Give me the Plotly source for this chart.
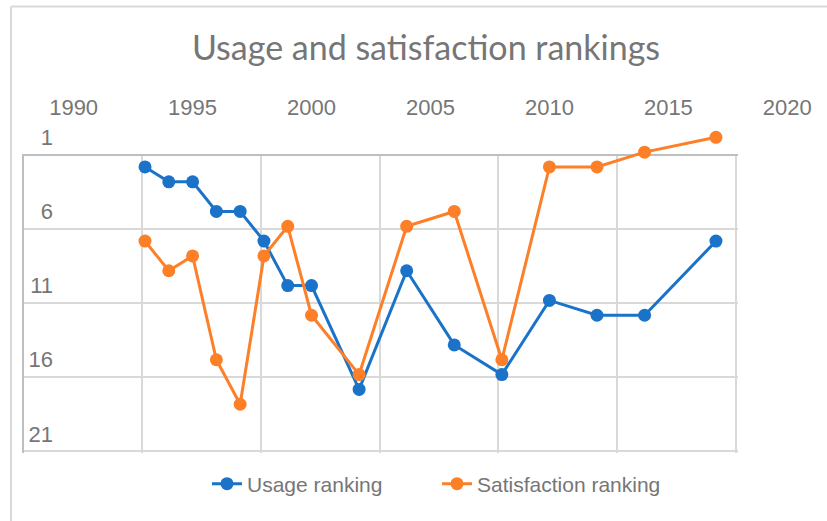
import plotly.graph_objects as go

# ---- data ----
years = [1993, 1994, 1995, 1996, 1997, 1998, 1999, 2000, 2002, 2004, 2006, 2008, 2010, 2012, 2014, 2017]
usage_rank = [3, 4, 4, 6, 6, 8, 11, 11, 18, 10, 15, 17, 12, 13, 13, 8]
satisfaction_rank = [8, 10, 9, 16, 19, 9, 7, 13, 17, 7, 6, 16, 3, 3, 2, 1]
x_tick_labels = [1990, 1995, 2000, 2005, 2010, 2015, 2020]
y_tick_labels = [1, 6, 11, 16, 21]

# ---- layout geometry (pixels) ----
W, H = 827, 521
X_REF_YEAR, X_REF_PX, PX_PER_YEAR = 1993, 145.0, 23.79
Y_REF_RANK, Y_REF_PX, PX_PER_RANK = 1, 137.3, 14.83

def fx(p):
    return p / W

def fy(p):
    return 1 - p / H

def year_at(p):
    return X_REF_YEAR + (p - X_REF_PX) / PX_PER_YEAR

def rank_at(p):
    return Y_REF_RANK + (p - Y_REF_PX) / PX_PER_RANK

DATA_L, DATA_R, DATA_T, DATA_B = 11, 827, 116, 472
GRID_L, GRID_R, GRID_T, GRID_B = 23.5, 738, 155.5, 453

TXT = "#767676"
TICKFONT = "Liberation Sans, Arial, sans-serif"
LEGFONT = "Liberation Sans, Arial, sans-serif"
BLUE = "#1a73c8"
ORANGE = "#fd7f28"
GRID = "#d9d9d9"
EDGE = "#bfbfbf"

fig = go.Figure()
# empty trace so that the grid subplot (x/y) is created
fig.add_trace(go.Scatter(x=[], y=[], showlegend=False, hoverinfo="skip", xaxis="x", yaxis="y"))
fig.add_trace(go.Scatter(
    x=years, y=usage_rank, name="Usage ranking", mode="lines+markers",
    line=dict(color=BLUE, width=3), marker=dict(color=BLUE, size=13),
    xaxis="x2", yaxis="y2", cliponaxis=False))
fig.add_trace(go.Scatter(
    x=years, y=satisfaction_rank, name="Satisfaction ranking", mode="lines+markers",
    line=dict(color=ORANGE, width=3), marker=dict(color=ORANGE, size=13),
    xaxis="x2", yaxis="y2", cliponaxis=False))

fig.update_layout(
    width=W, height=H,
    margin=dict(l=0, r=0, t=0, b=0),
    paper_bgcolor="white", plot_bgcolor="rgba(0,0,0,0)",
    title=dict(text="Usage and satisfaction rankings", x=fx(426), xanchor="center",
               y=fy(48), yanchor="middle",
               font=dict(family="Lato, Open Sans, sans-serif", size=34, color=TXT)),
    # grid box (6 x 4 cells)
    xaxis=dict(domain=[fx(GRID_L), fx(GRID_R)], range=[0, 6.02], tickvals=[0, 1, 2, 3, 4, 5, 6],
               showticklabels=False, ticks="", showgrid=True, gridcolor=GRID, gridwidth=2,
               zeroline=False, showline=True, linecolor=EDGE, linewidth=2, side="top",
               anchor="y", fixedrange=True),
    yaxis=dict(domain=[fy(GRID_B), fy(GRID_T)], range=[4.03, 0], tickvals=[0, 1, 2, 3, 4],
               showticklabels=False, ticks="", showgrid=True, gridcolor=GRID, gridwidth=2,
               zeroline=False, showline=True, linecolor=EDGE, linewidth=2, side="left",
               anchor="x", fixedrange=True),
    # data axes
    xaxis2=dict(domain=[fx(DATA_L), fx(DATA_R)], range=[year_at(DATA_L), year_at(DATA_R)],
                tickvals=x_tick_labels, side="top", anchor="free", position=fy(119),
                showgrid=False, zeroline=False, showline=False, ticks="",
                tickfont=dict(family=TICKFONT, size=22, color=TXT)),
    yaxis2=dict(domain=[fy(DATA_B), fy(DATA_T)], range=[rank_at(DATA_B), rank_at(DATA_T)],
                tickvals=y_tick_labels, side="left", anchor="free", position=fx(53),
                showgrid=False, zeroline=False, showline=False, ticks="",
                tickfont=dict(family=TICKFONT, size=22, color=TXT)),
    legend=dict(orientation="h", x=fx(437), xanchor="center", y=fy(484), yanchor="middle",
                entrywidth=185, entrywidthmode="pixels",
                font=dict(family=LEGFONT, size=21, color=TXT), bgcolor="rgba(0,0,0,0)"),
    shapes=[
        dict(type="line", xref="paper", yref="paper", x0=fx(11), x1=1, y0=fy(6.5), y1=fy(6.5),
             line=dict(color=GRID, width=2)),
        dict(type="line", xref="paper", yref="paper", x0=fx(11), x1=fx(11), y0=0, y1=fy(6.5),
             line=dict(color=GRID, width=2)),
    ],
)

fig.write_html(
    "out.html",
    config={"displayModeBar": False},
    post_script="document.body.style.margin='0';document.body.style.overflow='hidden';",
)
